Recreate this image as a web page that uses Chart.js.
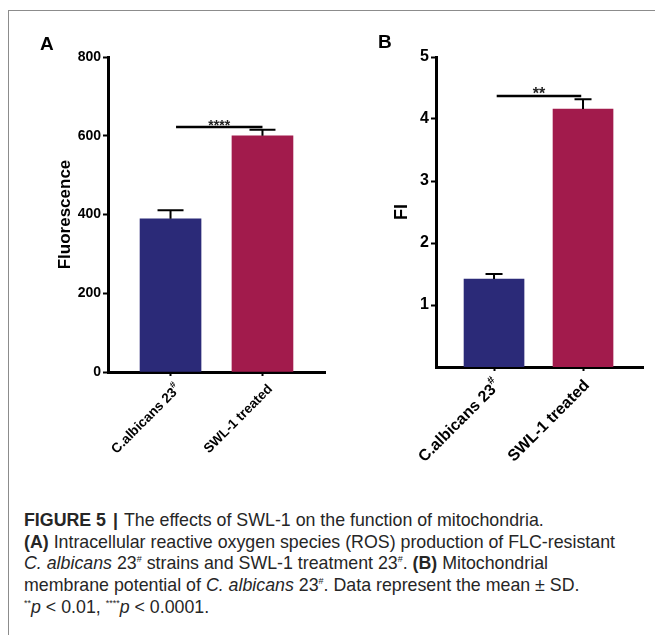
<!DOCTYPE html>
<html>
<head>
<meta charset="utf-8">
<script src="https://cdn.jsdelivr.net/npm/chart.js@4.4.0/dist/chart.umd.min.js"></script>
<style>
  body { margin: 0; background: #fff; width: 655px; height: 635px; position: relative; overflow: hidden;
         font-family: "Liberation Sans", Arial, sans-serif; }
  #frame { position: absolute; left: 8px; top: 10px; width: 700px; height: 700px;
           border-left: 1.5px solid #8c8c8c; border-top: 1.5px solid #8c8c8c; }
  .panel { position: absolute; top: 0; }
  .letter { position: absolute; font-weight: bold; font-size: 19px; color: #000; }
  #caption { position: absolute; left: 24px; top: 510px; font-size: 17.8px; line-height: 21.7px;
             color: #262626; white-space: nowrap; }
  #caption sup { font-size: 9px; vertical-align: 7px; line-height: 0; }
  #caption .sep { font-weight: bold; padding: 0 6px 0 7px; }
</style>
</head>
<body>
<div id="frame"></div>
<canvas id="chartA" class="panel" style="left:0px" width="330" height="500"></canvas>
<canvas id="chartB" class="panel" style="left:330px" width="325" height="500"></canvas>
<div class="letter" style="left:40px; top:33px;">A</div>
<div class="letter" style="left:378px; top:31px;">B</div>
<div id="caption">
  <div><b>FIGURE 5</b><span class="sep">|</span>The effects of SWL-1 on the function of mitochondria.</div>
  <div><b>(A)</b> Intracellular reactive oxygen species (ROS) production of FLC-resistant</div>
  <div><i>C. albicans</i> 23<sup>#</sup> strains and SWL-1 treatment 23<sup>#</sup>. <b>(B)</b> Mitochondrial</div>
  <div>membrane potential of <i>C. albicans</i> 23<sup>#</sup>. Data represent the mean ± SD.</div>
  <div><sup>**</sup><i>p</i> &lt; 0.01, <sup>****</sup><i>p</i> &lt; 0.0001.</div>
</div>

<script>
// Data
const categories = ['C.albicans 23', 'SWL-1 treated'];
const superscripts = ['#', ''];
const barColors = ['#2b2a78', '#a21b4c'];

const rosMean = [389, 600];      // panel A, fluorescence
const rosSd = [22, 15];
const rosTicks = [0, 200, 400, 600, 800];
const rosSigLevel = 622;
const rosSigText = '****';

const mmpMean = [1.42, 4.16];    // panel B, FI
const mmpSd = [0.08, 0.16];
const mmpTicks = [1, 2, 3, 4, 5];
const mmpSigLevel = 4.37;
const mmpSigText = '**';

const FONT = '"Liberation Sans", Arial, sans-serif';

// error bars, significance bar and rotated category labels
const panelPlugin = {
  id: 'panel',
  afterDatasetsDraw(chart, args, opts) {
    const ctx = chart.ctx;
    const xs = chart.scales.x, ys = chart.scales.y;
    ctx.save();
    ctx.strokeStyle = '#000';
    ctx.lineWidth = 2;
    opts.means.forEach((m, i) => {
      const px = xs.getPixelForValue(i + 1);
      const top = ys.getPixelForValue(m + opts.sds[i]);
      ctx.beginPath();
      ctx.moveTo(px, ys.getPixelForValue(m));
      ctx.lineTo(px, top);
      ctx.moveTo(px - opts.capWidth / 2, top);
      ctx.lineTo(px + opts.capWidth / 2, top);
      ctx.stroke();
    });
    // significance line
    const y = ys.getPixelForValue(opts.sigLevel);
    const x1 = xs.getPixelForValue(1 + opts.sigStart);
    const x2 = xs.getPixelForValue(2 + opts.sigEnd);
    ctx.lineWidth = 2.5;
    ctx.beginPath();
    ctx.moveTo(x1, y);
    ctx.lineTo(x2, y);
    ctx.stroke();
    ctx.fillStyle = '#222';
    ctx.font = 'bold ' + opts.starSize + 'px ' + FONT;
    ctx.textAlign = 'center';
    ctx.textBaseline = 'alphabetic';
    ctx.fillText(opts.sigText, (x1 + x2) / 2, y + opts.starSize * 0.2);
    ctx.restore();
  },
  afterDraw(chart, args, opts) {
    const ctx = chart.ctx;
    const xs = chart.scales.x;
    const bottom = chart.chartArea.bottom;
    categories.forEach((c, i) => {
      const px = xs.getPixelForValue(i + 1);
      ctx.save();
      ctx.translate(px + opts.labelDx, bottom + opts.labelDy);
      ctx.rotate(-Math.PI / 4);
      ctx.fillStyle = '#000';
      ctx.textAlign = 'right';
      ctx.textBaseline = 'middle';
      let supW = 0;
      if (superscripts[i]) {
        ctx.font = 'bold ' + Math.round(opts.labelSize * 0.7) + 'px ' + FONT;
        supW = ctx.measureText(superscripts[i]).width;
        ctx.fillText(superscripts[i], 0, -opts.labelSize * 0.4);
      }
      ctx.font = 'bold ' + opts.labelSize + 'px ' + FONT;
      ctx.fillText(c, -supW, 0);
      ctx.restore();
    });
  }
};

function buildPanel(id, p) {
  const ctx = document.getElementById(id).getContext('2d');
  return new Chart(ctx, {
    type: 'bar',
    data: {
      datasets: [{
        data: p.means.map((v, i) => ({ x: i + 1, y: v })),
        backgroundColor: barColors,
        borderWidth: 0,
        barThickness: p.barWidth
      }]
    },
    options: {
      responsive: false,
      animation: false,
      events: [],
      layout: { padding: { left: 0, top: p.padTop, right: p.padRight, bottom: 0 } },
      plugins: {
        legend: { display: false },
        tooltip: { enabled: false },
        panel: {
          means: p.means, sds: p.sds, capWidth: p.capWidth,
          sigLevel: p.sigLevel, sigText: p.sigText, sigStart: p.sigStart, sigEnd: p.sigEnd,
          starSize: p.starSize, labelSize: p.labelSize, labelDx: p.labelDx, labelDy: p.labelDy
        }
      },
      scales: {
        x: {
          type: 'linear',
          min: p.xMin, max: p.xMax,
          offset: false,
          afterBuildTicks: s => { s.ticks = [{ value: 1 }, { value: 2 }]; },
          ticks: { display: false },
          grid: { offset: false, drawOnChartArea: false, drawTicks: true, tickLength: 4, tickColor: '#000', tickWidth: 2 },
          border: { color: '#000', width: 3 },
          afterFit: s => { s.height = p.xAxisHeight; }
        },
        y: {
          min: 0, max: p.yMax,
          afterBuildTicks: s => { s.ticks = p.ticks.map(v => ({ value: v })); },
          ticks: { color: '#000', padding: 2, font: { family: FONT, weight: 'bold', size: p.tickSize } },
          grid: { drawOnChartArea: false, drawTicks: true, tickLength: 5, tickColor: '#000', tickWidth: 2 },
          border: { color: '#000', width: 3 },
          title: {
            display: true, text: p.title, color: '#000',
            font: { family: FONT, weight: 'bold', size: p.titleSize },
            padding: { top: p.titlePad, bottom: 0 }
          },
          afterFit: s => { s.width = p.yAxisWidth; }
        }
      }
    },
    plugins: [panelPlugin]
  });
}

buildPanel('chartA', {
  means: rosMean, sds: rosSd, ticks: rosTicks, yMax: 800,
  sigLevel: rosSigLevel, sigText: rosSigText, sigStart: 0.06, sigEnd: 0.0,
  title: 'Fluorescence', titleSize: 17, titlePad: 55, tickSize: 14,
  xMin: 0.32, xMax: 2.68, barWidth: 61, capWidth: 26,
  padTop: 57, padRight: 5, yAxisWidth: 108, xAxisHeight: 128,
  starSize: 14, labelSize: 13.5, labelDx: 8, labelDy: 15
});

buildPanel('chartB', {
  means: mmpMean, sds: mmpSd, ticks: mmpTicks, yMax: 5,
  sigLevel: mmpSigLevel, sigText: mmpSigText, sigStart: 0.03, sigEnd: -0.02,
  title: 'FI', titleSize: 18, titlePad: 61, tickSize: 16,
  xMin: 0.348, xMax: 2.674, barWidth: 60, capWidth: 17,
  padTop: 57, padRight: 12, yAxisWidth: 106, xAxisHeight: 133,
  starSize: 16, labelSize: 16, labelDx: 4, labelDy: 16
});
</script>
</body>
</html>
